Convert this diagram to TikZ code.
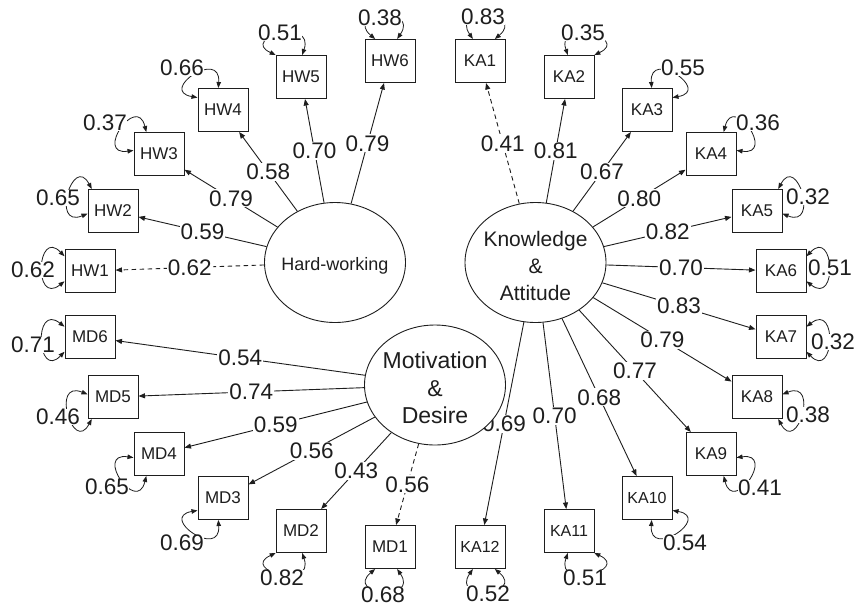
\documentclass[tikz,border=0pt]{standalone}
\usepackage{fontspec}
\setmainfont{Liberation Sans}
\usetikzlibrary{arrows.meta,backgrounds,shapes.geometric}
\definecolor{ink}{HTML}{1E1E1E}
\newcommand\resloop[4]{%
  \pgfmathtruncatemacro\angA{#2+26}%
  \pgfmathtruncatemacro\angB{#2-26}%
  \pgfmathtruncatemacro\angC{#2+42}%
  \pgfmathtruncatemacro\angD{#2-42}%
  \draw[resid] (#1.\angA) .. controls +(\angC:40) and +(\angD:40) .. (#1.\angB);
  \node[rlbl] (r#1) at (#4) {#3};
}
\begin{document}
\begin{tikzpicture}[x=1pt,y=1pt,
  box/.style={draw=ink, line width=1pt, fill=white, minimum width=50pt, minimum height=43pt, inner sep=0pt, text=ink, font=\fontsize{17}{20}\selectfont},
  boxs/.style={box, font=\fontsize{16}{20}\selectfont},
  lat/.style={ellipse, draw=ink, line width=0.9pt, fill=white, minimum width=141pt, minimum height=120pt, inner sep=0pt},
  lattext/.style={align=center, text=ink, inner sep=0pt},
  ld/.style={draw=ink, line width=0.9pt, -{Triangle[length=6.5pt,width=5pt]}},
  fixed/.style={dash pattern=on 4.5pt off 3.5pt},
  lbl/.style={fill=white, inner sep=1pt, text=ink, font=\fontsize{22.5}{24}\selectfont},
  rlbl/.style={fill=white, inner sep=0.5pt, text=ink, font=\fontsize{22.5}{24}\selectfont},
  resid/.style={draw=ink, line width=0.8pt, {Triangle[length=6pt,width=4.5pt]}-{Triangle[length=6pt,width=4.5pt]}}
]
\useasboundingbox (0,0) rectangle (857,-606);
% latent variables
\node[lat] (HWL) at (335,-262.5) {};
\node[lat] (KAL) at (535.5,-262.5) {};
\node[lat] (MDL) at (435,-385) {};
\node[lattext, font=\fontsize{18}{20}\selectfont] (HWT) at (335,-266) {Hard-working};
\node[lattext, font=\fontsize{21}{27}\selectfont] (KAT) at (535.5,-266) {Knowledge\\\&\\Attitude};
\node[lattext, font=\fontsize{23}{27.5}\selectfont] (MDT) at (435,-388) {Motivation\\\&\\Desire};
% indicators
\node[box] (HW1) at (90,-271) {HW1};
\node[box] (HW2) at (113,-211) {HW2};
\node[box] (HW3) at (159,-154) {HW3};
\node[box] (HW4) at (223,-110) {HW4};
\node[box] (HW5) at (301,-77) {HW5};
\node[box] (HW6) at (390,-61) {HW6};
\node[box] (KA1) at (480,-61) {KA1};
\node[box] (KA2) at (569,-77) {KA2};
\node[box] (KA3) at (647,-110) {KA3};
\node[box] (KA4) at (711,-154) {KA4};
\node[box] (KA5) at (757,-211) {KA5};
\node[box] (KA6) at (781,-271) {KA6};
\node[box] (KA7) at (781,-337) {KA7};
\node[box] (KA8) at (757,-397) {KA8};
\node[box] (KA9) at (711,-454) {KA9};
\node[boxs] (KA10) at (647,-498) {KA10};
\node[boxs] (KA11) at (569,-531) {KA11};
\node[boxs] (KA12) at (480,-547) {KA12};
\node[box] (MD1) at (390,-547) {MD1};
\node[box] (MD2) at (301,-531) {MD2};
\node[box] (MD3) at (223,-498) {MD3};
\node[box] (MD4) at (159,-454) {MD4};
\node[box] (MD5) at (113,-397) {MD5};
\node[box] (MD6) at (90,-337) {MD6};
% loadings
\begin{scope}[on background layer]
\fill[white] (0,0) rectangle (857,-606);
\draw[ld, fixed] (HWL) -- node[lbl] {0.62} (HW1);
\draw[ld] (HWL) -- node[lbl] {0.59} (HW2);
\draw[ld] (HWL) -- node[lbl] {0.79} (HW3);
\draw[ld] (HWL) -- node[lbl] {0.58} (HW4);
\draw[ld] (HWL) -- node[lbl] {0.70} (HW5);
\draw[ld] (HWL) -- node[lbl] {0.79} (HW6);
\draw[ld, fixed] (KAL) -- node[lbl] {0.41} (KA1);
\draw[ld] (KAL) -- node[lbl] {0.81} (KA2);
\draw[ld] (KAL) -- node[lbl] {0.67} (KA3);
\draw[ld] (KAL) -- node[lbl] {0.80} (KA4);
\draw[ld] (KAL) -- node[lbl] {0.82} (KA5);
\draw[ld] (KAL) -- node[lbl] {0.70} (KA6);
\draw[ld] (KAL) -- node[lbl] {0.83} (KA7);
\draw[ld] (KAL) -- node[lbl] {0.79} (KA8);
\draw[ld] (KAL) -- node[lbl] {0.77} (KA9);
\draw[ld] (KAL) -- node[lbl] {0.68} (KA10);
\draw[ld] (KAL) -- node[lbl] {0.70} (KA11);
\draw[ld] (KAL) -- node[lbl] {0.69} (KA12);
\draw[ld, fixed] (MDL) -- node[lbl] {0.56} (MD1);
\draw[ld] (MDL) -- node[lbl] {0.43} (MD2);
\draw[ld] (MDL) -- node[lbl] {0.56} (MD3);
\draw[ld] (MDL) -- node[lbl] {0.59} (MD4);
\draw[ld] (MDL) -- node[lbl] {0.74} (MD5);
\draw[ld] (MDL) -- node[lbl] {0.54} (MD6);
\end{scope}
% residual variances
\resloop{HW1}{176}{0.62}{33,-270}
\resloop{HW2}{160}{0.65}{58,-198}
\resloop{HW3}{146}{0.37}{105,-123}
\resloop{HW4}{128}{0.66}{182,-68}
\resloop{HW5}{113}{0.51}{280,-33}
\resloop{HW6}{98}{0.38}{380,-18}
\resloop{KA1}{82}{0.83}{483,-17}
\resloop{KA2}{67}{0.35}{583,-33}
\resloop{KA3}{52}{0.55}{683,-68}
\resloop{KA4}{34}{0.36}{758,-123}
\resloop{KA5}{20}{0.32}{808,-197}
\resloop{KA6}{4}{0.51}{830,-268}
\resloop{KA7}{-4}{0.32}{833,-342}
\resloop{KA8}{-20}{0.38}{808,-415}
\resloop{KA9}{-34}{0.41}{760,-488}
\resloop{KA10}{-52}{0.54}{685,-543}
\resloop{KA11}{-67}{0.51}{585,-578}
\resloop{KA12}{-82}{0.52}{488,-594}
\resloop{MD1}{-98}{0.68}{383,-595}
\resloop{MD2}{-113}{0.82}{282,-578}
\resloop{MD3}{-128}{0.69}{182,-543}
\resloop{MD4}{-146}{0.65}{107,-487}
\resloop{MD5}{-160}{0.46}{58,-417}
\resloop{MD6}{184}{0.71}{33,-345}
\end{tikzpicture}
\end{document}
